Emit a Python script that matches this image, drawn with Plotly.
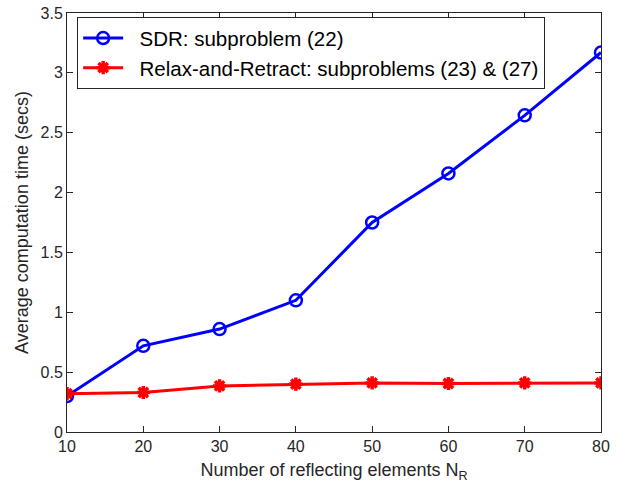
import plotly.graph_objects as go

n_elements = [10, 20, 30, 40, 50, 60, 70, 80]
sdr_time = [0.30, 0.72, 0.86, 1.10, 1.75, 2.16, 2.645, 3.17]
rr_time = [0.32, 0.33, 0.385, 0.40, 0.41, 0.405, 0.41, 0.41]

x_ticks = [10, 20, 30, 40, 50, 60, 70, 80]
y_ticks = [0, 0.5, 1, 1.5, 2, 2.5, 3, 3.5]
y_tick_labels = ["0", "0.5", "1", "1.5", "2", "2.5", "3", "3.5"]

fig = go.Figure()
fig.add_trace(go.Scatter(
    x=n_elements, y=sdr_time, mode="lines+markers",
    name="\u00a0\u00a0SDR: subproblem (22)",
    line=dict(color="#0000ff", width=3),
    marker=dict(symbol="circle-open", size=12, color="#0000ff", line=dict(width=2.5, color="#0000ff")),
))
fig.add_trace(go.Scatter(
    x=n_elements, y=rr_time, mode="lines+markers",
    name="\u00a0\u00a0Relax-and-Retract: subproblems (23) & (27)",
    line=dict(color="#ff0000", width=3),
    marker=dict(symbol="asterisk-open", size=11, color="#ff0000", line=dict(width=3.5, color="#ff0000")),
))

axis_common = dict(
    showgrid=False, zeroline=False, showline=True, linecolor="#262626", linewidth=1,
    mirror="ticks", ticks="inside", ticklen=6, tickcolor="#262626", tickwidth=1,
    tickfont=dict(family="Liberation Sans, Arial, sans-serif", size=16, color="#262626"),
    automargin=False,
)

fig.update_layout(
    width=618, height=485,
    margin=dict(l=67, r=17, t=13, b=53),
    paper_bgcolor="white", plot_bgcolor="white",
    font=dict(family="Liberation Sans, Arial, sans-serif", color="#262626"),
    xaxis=dict(range=[10, 80], tickvals=x_ticks,
               title=dict(text="Number of reflecting elements N<sub>R</sub>", font=dict(size=18), standoff=9),
               **axis_common),
    yaxis=dict(range=[0, 3.5], tickvals=y_ticks, ticktext=y_tick_labels,
               title=dict(text="Average computation time (secs)", font=dict(size=18), standoff=7),
               **axis_common),
    legend=dict(x=0.019, y=0.99, xanchor="left", yanchor="top",
                bgcolor="white", bordercolor="#262626", borderwidth=1,
                font=dict(size=20.5, color="#000000"), tracegroupgap=0,
                itemwidth=40),
    showlegend=True,
)

fig.write_html("out.html")
